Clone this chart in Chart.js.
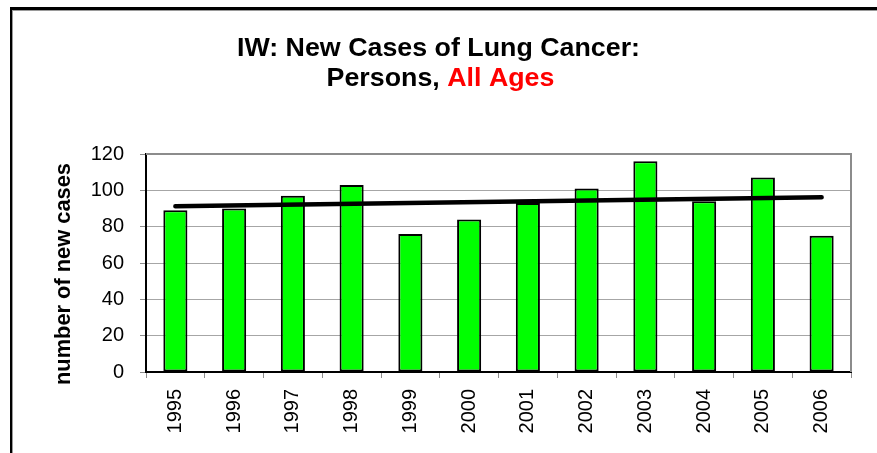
<!DOCTYPE html>
<html>
<head>
<meta charset="utf-8">
<script src="https://cdn.jsdelivr.net/npm/chart.js@4.4.1/dist/chart.umd.min.js"></script>
<style>
html,body{margin:0;padding:0;background:#fff;}
#wrap{position:relative;width:877px;height:453px;}
</style>
</head>
<body>
<div id="wrap"><canvas id="c" width="877" height="453"></canvas></div>
<script>
// ---- data ----
const years = ['1995','1996','1997','1998','1999','2000','2001','2002','2003','2004','2005','2006'];
const newCases = [89, 90, 97, 103, 76, 84, 93, 101, 116, 94, 107, 75];
const trendEnds = [91.3, 96.2];          // trend line value at first and last year
const yTicks = [0, 20, 40, 60, 80, 100, 120];
const titleLine1 = 'IW: New Cases of Lung Cancer:';
const titleLine2a = 'Persons, ';
const titleLine2b = 'All Ages';
const yAxisTitle = 'number of new cases';

const FONT = '"Liberation Sans", Arial, Helvetica, sans-serif';

const trendData = years.map((_, i) => i === 0 ? trendEnds[0] : (i === years.length - 1 ? trendEnds[1] : null));

const framePlugin = {
  id: 'frame',
  beforeDraw(chart) {
    const ctx = chart.ctx;
    ctx.save();
    ctx.fillStyle = '#fff';
    ctx.fillRect(0, 0, chart.width, chart.height);
    ctx.fillStyle = '#000';
    ctx.fillRect(10, 7, chart.width - 10, 3);
    ctx.fillRect(10, 7, 2, chart.height - 7);
    ctx.fillStyle = '#9a9a9a';
    ctx.fillRect(12, 10, chart.width - 12, 1);
    ctx.fillRect(12, 10, 1, chart.height - 10);
    ctx.restore();
  }
};

const plotBorderPlugin = {
  id: 'plotBorder',
  beforeDatasetsDraw(chart) {
    const {ctx, chartArea: a} = chart;
    ctx.save();
    ctx.strokeStyle = '#8c8c8c';
    ctx.lineWidth = 2;
    ctx.beginPath();
    ctx.moveTo(a.left, a.top);
    ctx.lineTo(a.right, a.top);
    ctx.lineTo(a.right, a.bottom);
    ctx.stroke();
    ctx.restore();
  }
};

const textPlugin = {
  id: 'texts',
  afterDraw(chart) {
    const ctx = chart.ctx;
    ctx.save();
    ctx.fillStyle = '#000';
    ctx.textBaseline = 'alphabetic';
    ctx.font = 'bold 26px ' + FONT;
    const w1 = ctx.measureText(titleLine1).width;
    const sx = 403 / w1;
    const cx = 438.5;
    ctx.save();
    ctx.translate(cx, 56);
    ctx.scale(sx, 1);
    ctx.textAlign = 'center';
    ctx.fillText(titleLine1, 0, 0);
    ctx.restore();

    const wa = ctx.measureText(titleLine2a).width;
    const wb = ctx.measureText(titleLine2b).width;
    ctx.save();
    ctx.translate(cx + 2, 86);
    ctx.scale(sx, 1);
    ctx.textAlign = 'left';
    const start = -(wa + wb) / 2;
    ctx.fillStyle = '#000';
    ctx.fillText(titleLine2a, start, 0);
    ctx.fillStyle = '#FF0000';
    ctx.fillText(titleLine2b, start + wa, 0);
    ctx.restore();

    // y axis title
    ctx.font = 'bold 22px ' + FONT;
    const wy = ctx.measureText(yAxisTitle).width;
    const sy = 222 / wy;
    ctx.save();
    ctx.translate(70, 274);
    ctx.rotate(-Math.PI / 2);
    ctx.scale(sy, 1);
    ctx.textAlign = 'center';
    ctx.fillStyle = '#000';
    ctx.fillText(yAxisTitle, 0, 0);
    ctx.restore();
    ctx.restore();
  }
};

new Chart(document.getElementById('c'), {
  type: 'bar',
  data: {
    labels: years,
    datasets: [
      {
        type: 'line',
        data: trendData,
        spanGaps: true,
        borderColor: '#000',
        borderWidth: 4.5,
        borderCapStyle: 'round',
        pointRadius: 0,
        fill: false,
        order: 0
      },
      {
        type: 'bar',
        data: newCases,
        backgroundColor: '#00FF00',
        borderColor: '#000',
        borderWidth: 2,
        borderSkipped: false,
        barPercentage: 0.41,
        categoryPercentage: 1,
        order: 1
      }
    ]
  },
  options: {
    responsive: false,
    animation: false,
    devicePixelRatio: 1,
    layout: { padding: { left: 40, top: 154, right: 26, bottom: 0 } },
    plugins: { legend: { display: false }, tooltip: { enabled: false }, title: { display: false } },
    scales: {
      x: {
        offset: true,
        grid: { drawOnChartArea: false, drawTicks: true, tickLength: 6, color: '#8c8c8c', offset: true },
        border: { color: '#000', width: 2 },
        ticks: { autoSkip: false, minRotation: 90, maxRotation: 90, padding: 11, color: '#000', font: { family: FONT, size: 20 } },
        afterFit(s) { s.height = 81; }
      },
      y: {
        min: yTicks[0],
        max: yTicks[yTicks.length - 1],
        afterBuildTicks(s) { s.ticks = yTicks.map(v => ({ value: v })); },
        grid: { color: '#a6a6a6', lineWidth: 1, tickLength: 6, tickColor: '#8c8c8c' },
        border: { color: '#000', width: 2 },
        ticks: { padding: 16, color: '#000', font: { family: FONT, size: 20 } },
        afterFit(s) { s.width = 106; }
      }
    }
  },
  plugins: [framePlugin, plotBorderPlugin, textPlugin]
});
</script>
</body>
</html>
